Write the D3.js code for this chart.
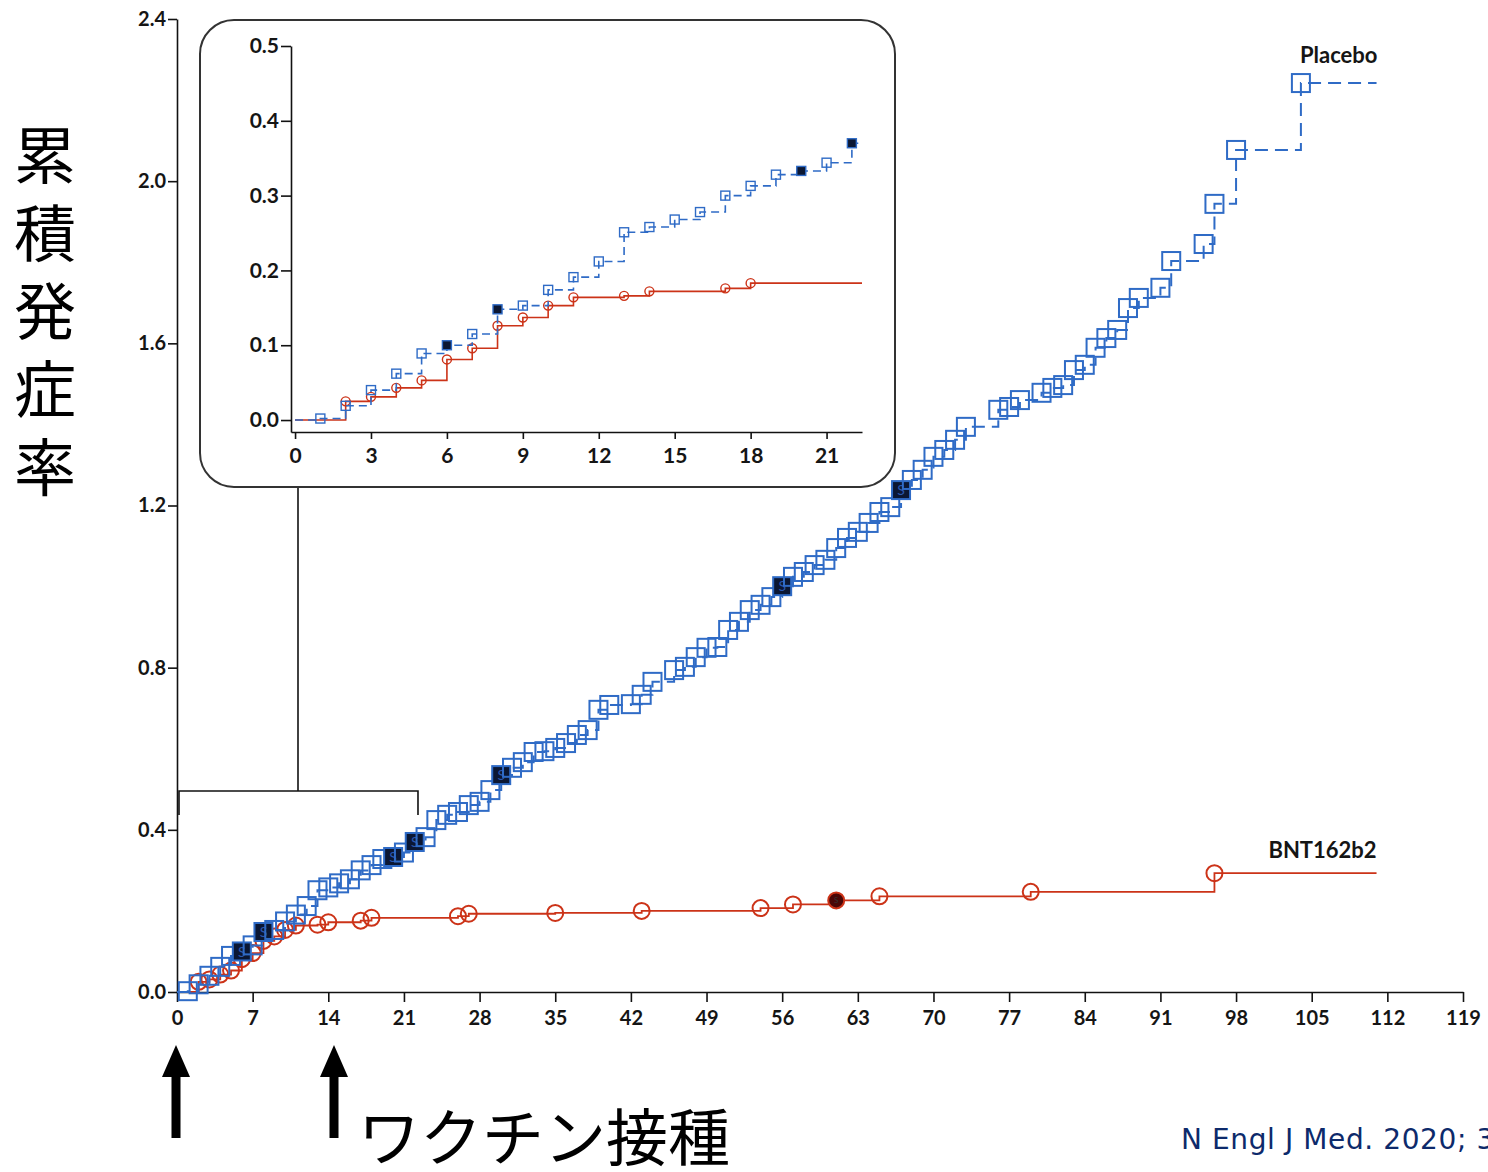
<!DOCTYPE html>
<html lang="ja">
<head>
  <meta charset="UTF-8">
  <title>累積発症率</title>
  <script src="https://cdnjs.cloudflare.com/ajax/libs/d3/7.8.5/d3.min.js"></script>
  <style>
    html, body { margin: 0; padding: 0; background: #fff; overflow: hidden; }
    .tick text { font-family: Lato, "Open Sans", sans-serif; font-weight: 700; fill: #151515; }
    .axis path, .axis line { stroke: #111; stroke-width: 1.6; }
  </style>
</head>
<body>
<div id="chart"></div>
<script>
// data (days since dose 1, cumulative incidence %)
var placeboDays = [1,2,3,4,5,6,7,8,9,10,11,12,13,14,15,16,17,18,19,20,21,22,23,24,25,26,27,28,29,30,
  31,32,33,34,35,36,37,38,39,40,42,43,44,46,47,48,49,50,51,52,53,54,55,56,57,58,59,60,61,62,63,64,65,
  66,67,68,69,70,71,72,73,76,77,78,80,81,82,83,84,85,86,87,88,89,91,92,95,96,98,104];
var placeboRate = [0.002,0.019,0.040,0.062,0.089,0.100,0.115,0.148,0.153,0.174,0.191,0.212,0.251,0.258,
  0.268,0.278,0.300,0.313,0.328,0.333,0.344,0.370,0.382,0.424,0.437,0.444,0.461,0.469,0.498,0.535,
  0.553,0.567,0.592,0.594,0.602,0.614,0.634,0.646,0.696,0.708,0.710,0.733,0.765,0.794,0.802,0.826,
  0.849,0.851,0.893,0.913,0.942,0.955,0.974,1.001,1.024,1.036,1.053,1.066,1.095,1.120,1.135,1.157,
  1.184,1.196,1.238,1.263,1.288,1.320,1.337,1.362,1.394,1.436,1.443,1.460,1.478,1.490,1.497,1.534,
  1.547,1.589,1.613,1.633,1.687,1.712,1.737,1.803,1.845,1.944,2.077,2.242];
var placeboSevere = [6, 8, 20, 22, 30, 56, 67];

var bntDays = [2,3,4,5,6,7,8,9,10,11,13,14,17,18,26,27,35,43,54,57,61,65,79,96];
var bntRate = [0.025,0.031,0.043,0.053,0.081,0.096,0.126,0.137,0.153,0.164,0.166,0.172,0.176,0.183,
  0.187,0.193,0.195,0.200,0.207,0.216,0.226,0.236,0.247,0.293];
var bntSevere = [61];

var followUpEnd = 111;
var insetEnd = 22.4;

var mainXTicks = [0,7,14,21,28,35,42,49,56,63,70,77,84,91,98,105,112,119];
var mainYTicks = [0,0.4,0.8,1.2,1.6,2.0,2.4];
var insetXTicks = [0,3,6,9,12,15,18,21];
var insetYTicks = [0,0.1,0.2,0.3,0.4,0.5];

var blue = "#2f6bc6", red = "#cc3318";

function series(days, rate, severe, end) {
  var pts = [{day: 0, v: 0}];
  days.forEach(function(d, i) {
    pts.push({day: d, v: rate[i], severe: severe.indexOf(d) >= 0, marker: true});
  });
  pts.push({day: end, v: rate[rate.length - 1]});
  return pts;
}

var placebo = series(placeboDays, placeboRate, placeboSevere, followUpEnd);
var bnt = series(bntDays, bntRate, bntSevere, followUpEnd);

var svg = d3.select("#chart").append("svg")
  .attr("width", 1488).attr("height", 1172);

// ---------- main chart ----------
var x = d3.scaleLinear().domain([0, 119]).range([177, 1463]);
var y = d3.scaleLinear().domain([0, 2.4]).range([992, 19]);

svg.append("g").attr("class", "axis")
  .attr("transform", "translate(0,992)")
  .call(d3.axisBottom(x).tickValues(mainXTicks).tickSize(10).tickSizeOuter(0).tickPadding(9))
  .selectAll("text").style("font-size", "20px");

svg.append("g").attr("class", "axis")
  .attr("transform", "translate(177,0)")
  .call(d3.axisLeft(y).tickValues(mainYTicks).tickFormat(d3.format(".1f")).tickSize(9).tickSizeOuter(0).tickPadding(2))
  .selectAll("text").style("font-size", "20px");

function drawSeries(g, data, sx, sy, opt) {
  var line = d3.line().curve(d3.curveStepAfter)
    .x(function(d) { return sx(d.day); })
    .y(function(d) { return sy(d.v); });
  g.append("path").datum(data)
    .attr("d", line)
    .attr("fill", "none")
    .attr("stroke", opt.color)
    .attr("stroke-width", opt.lw)
    .attr("stroke-dasharray", opt.dash || null);

  var marks = data.filter(function(d) { return d.marker && d.day <= opt.maxDay; });
  var m = g.selectAll(".m" + opt.cls).data(marks).enter().append("g")
    .attr("transform", function(d) { return "translate(" + sx(d.day) + "," + sy(d.v) + ")"; });
  if (opt.shape === "square") {
    m.append("rect")
      .attr("x", -opt.size / 2).attr("y", -opt.size / 2)
      .attr("width", opt.size).attr("height", opt.size)
      .attr("fill", function(d) { return d.severe ? "#0b1733" : "none"; })
      .attr("stroke", opt.color).attr("stroke-width", opt.mlw);
  } else {
    m.append("circle").attr("r", opt.size / 2)
      .attr("fill", function(d) { return d.severe ? "#4a0606" : "none"; })
      .attr("stroke", opt.color).attr("stroke-width", opt.mlw);
  }
  if (opt.letter) {
    m.filter(function(d) { return d.severe; }).append("text")
      .attr("text-anchor", "middle").attr("dy", "0.36em")
      .style("font-family", "Lato, sans-serif").style("font-size", opt.letter + "px")
      .attr("fill", opt.shape === "square" ? "#2a58b0" : "#333")
      .text("S");
  }
}

var mainG = svg.append("g");
drawSeries(mainG, bnt, x, y, {color: red, lw: 1.8, shape: "circle", size: 16, mlw: 2, maxDay: 200, cls: "b", letter: 8});
drawSeries(mainG, placebo, x, y, {color: blue, lw: 2, dash: "13,7", shape: "square", size: 18, mlw: 2, maxDay: 200, cls: "p", letter: 14});

svg.append("text").attr("x", x(107.5)).attr("y", y(2.242) - 20)
  .attr("text-anchor", "middle")
  .style("font-family", "Lato, sans-serif").style("font-weight", "700").style("font-size", "22px").attr("fill", "#151515")
  .text("Placebo");
svg.append("text").attr("x", x(106)).attr("y", y(0.293) - 15)
  .attr("text-anchor", "middle")
  .style("font-family", "Lato, sans-serif").style("font-weight", "700").style("font-size", "22px").attr("fill", "#151515")
  .text("BNT162b2");

// bracket marking the zoomed range
var br = svg.append("g").attr("fill", "none").attr("stroke", "#111").attr("stroke-width", 1.6);
br.append("path").attr("d", "M" + (x(0) + 2) + ",815 V791 H" + x(22.3) + " V815");
br.append("path").attr("d", "M298,487 V791");

// ---------- inset ----------
svg.append("rect").attr("x", 200).attr("y", 20).attr("width", 695).attr("height", 467)
  .attr("rx", 34).attr("ry", 34)
  .attr("fill", "#fff").attr("stroke", "#333").attr("stroke-width", 2);

var ix = d3.scaleLinear().domain([-0.16, insetEnd]).range([291, 862]);
var iy = d3.scaleLinear().domain([-0.016, 0.5]).range([432, 46]);

svg.append("g").attr("class", "axis")
  .attr("transform", "translate(0,432)")
  .call(d3.axisBottom(ix).tickValues(insetXTicks).tickSize(7).tickSizeOuter(0).tickPadding(9))
  .selectAll("text").style("font-size", "21px");
svg.append("g").attr("class", "axis")
  .attr("transform", "translate(291,0)")
  .call(d3.axisLeft(iy).tickValues(insetYTicks).tickFormat(d3.format(".1f")).tickSize(10).tickSizeOuter(0).tickPadding(2))
  .selectAll("text").style("font-size", "21px");

function clip(data, end) {
  var out = data.filter(function(d) { return d.day <= end; });
  out.push({day: end, v: out[out.length - 1].v});
  return out;
}

var inG = svg.append("g");
drawSeries(inG, clip(bnt, insetEnd), ix, iy, {color: red, lw: 1.6, shape: "circle", size: 9, mlw: 1.4, maxDay: insetEnd, cls: "ib"});
drawSeries(inG, clip(placebo, insetEnd), ix, iy, {color: blue, lw: 1.6, dash: "8,5", shape: "square", size: 9, mlw: 1.4, maxDay: insetEnd, cls: "ip"});

// ---------- annotations ----------
svg.append("text")
  .attr("x", 45).attr("y", 124)
  .style("writing-mode", "vertical-rl")
  .style("font-family", "'Noto Sans CJK JP', sans-serif").style("font-size", "62px")
  .style("letter-spacing", "16px").attr("fill", "#000")
  .text("累積発症率");

function arrow(cx) {
  svg.append("path")
    .attr("d", "M" + (cx - 4.5) + ",1138 V1077 H" + (cx - 14) + " L" + cx + ",1045 L" + (cx + 14) + ",1077 H" + (cx + 4.5) + " V1138 Z")
    .attr("fill", "#000");
}
arrow(176);
arrow(334);

svg.append("text").attr("x", 358).attr("y", 1161)
  .style("font-family", "'Noto Sans CJK JP', sans-serif").style("font-size", "62px").attr("fill", "#000")
  .text("ワクチン接種");

// the citation runs off the right edge in the original as well
svg.append("text").attr("x", 1181).attr("y", 1149)
  .style("font-family", "'DejaVu Sans', Verdana, sans-serif").style("font-size", "28px")
  .style("letter-spacing", "0.6px").attr("fill", "#0d2a6b")
  .text("N Engl J Med. 2020; 383");
</script>
</body>
</html>
